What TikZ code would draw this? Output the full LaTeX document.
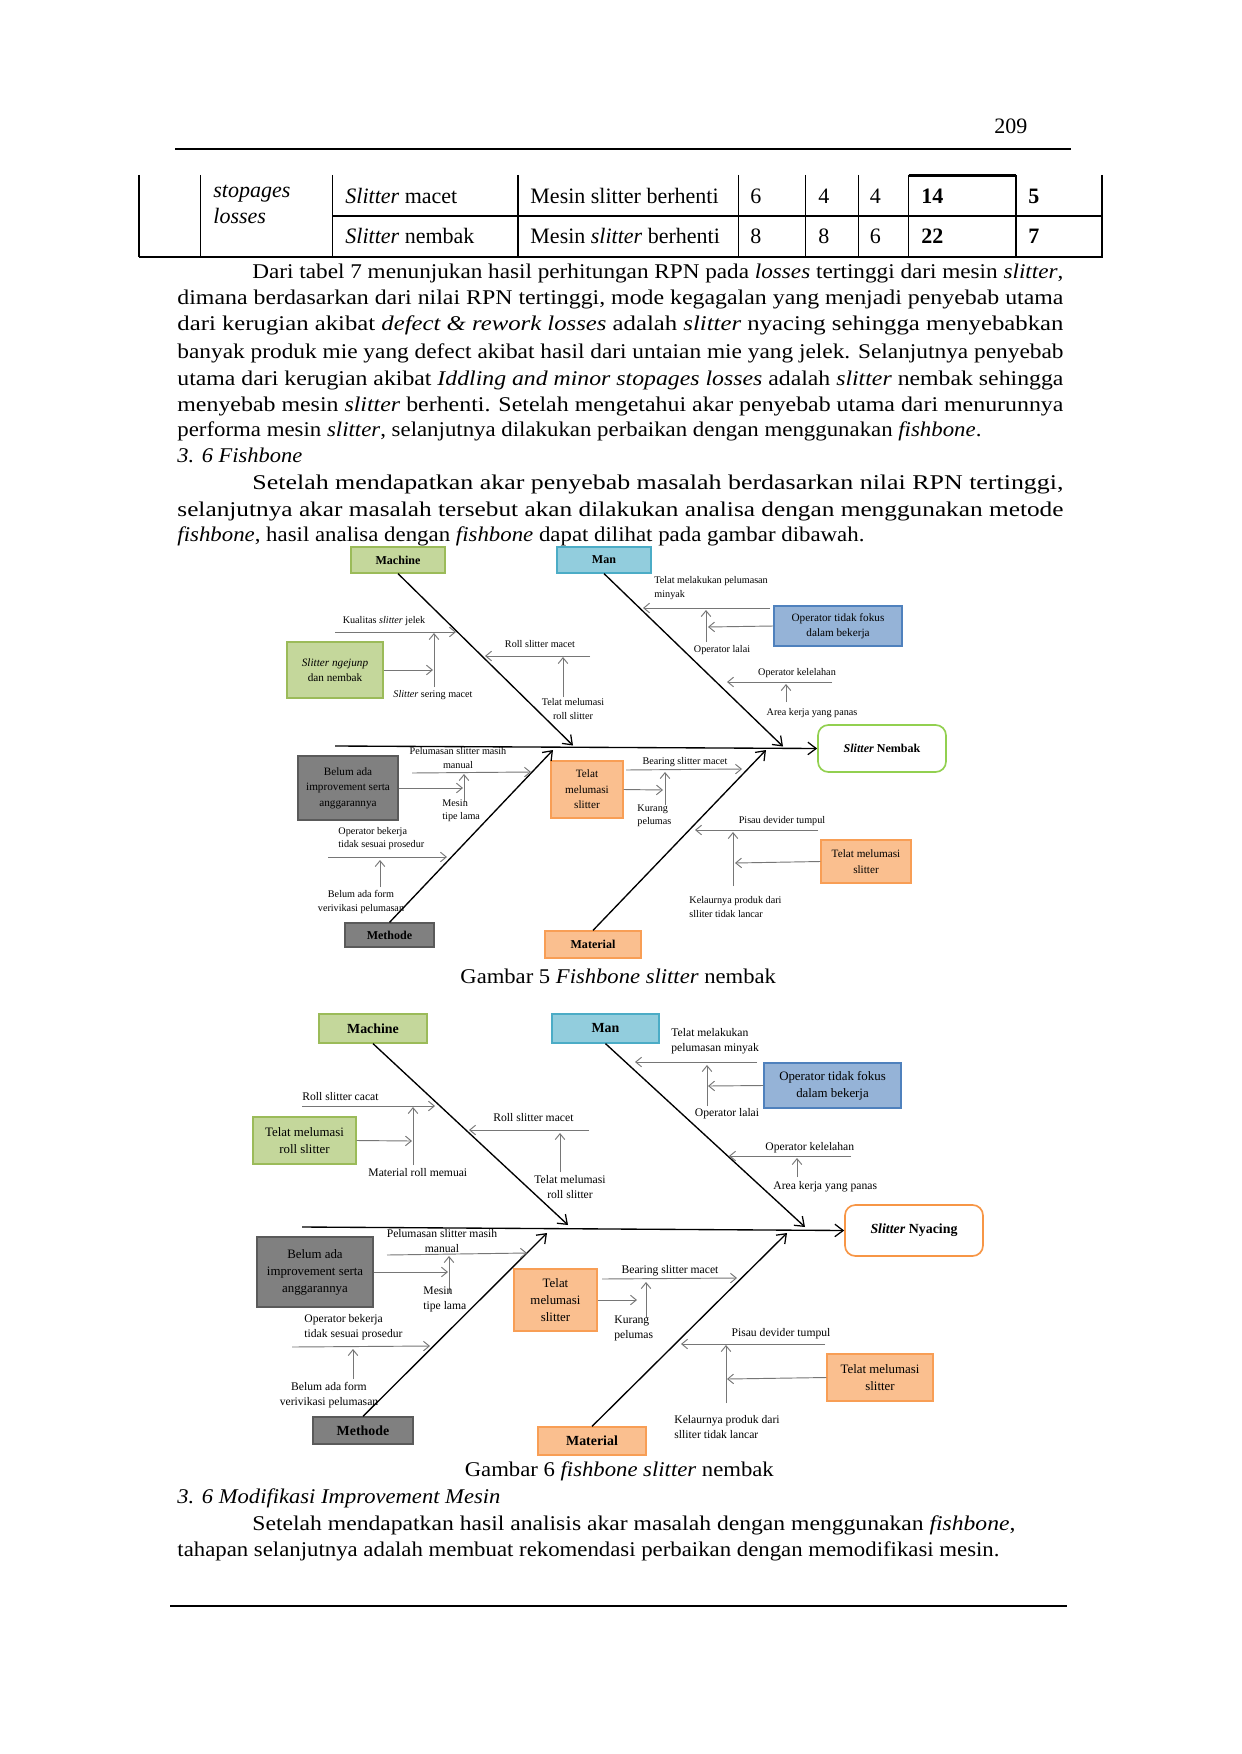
\documentclass[tikz,border=0pt]{standalone}
\usepackage{fontspec}
\setmainfont{Liberation Serif}
\usepackage{graphicx}
\usetikzlibrary{arrows.meta}
\newlength\pxu \setlength\pxu{0.4818pt}
\definecolor{grnF}{RGB}{196,215,155}
\definecolor{grnD}{RGB}{155,187,89}
\definecolor{cyF}{RGB}{146,205,221}
\definecolor{cyD}{RGB}{75,172,198}
\definecolor{bluF}{RGB}{149,179,215}
\definecolor{bluD}{RGB}{79,129,189}
\definecolor{gryF}{RGB}{128,128,128}
\definecolor{gryD}{RGB}{90,90,90}
\definecolor{orF}{RGB}{250,191,143}
\definecolor{orD}{RGB}{247,150,70}
\definecolor{effG}{RGB}{146,208,80}
\definecolor{subC}{RGB}{118,118,118}
\newcommand\fbLa{\fontsize{4.9}{6.4}\selectfont}
\newcommand\fbLb{\fontsize{5.6}{7.2}\selectfont}
\newcommand\fbBa{\fontsize{5.4}{7.4}\selectfont}
\newcommand\fbBb{\fontsize{6.2}{8.2}\selectfont}
\newcommand\fbCa{\fontsize{5.8}{7}\selectfont}
\newcommand\fbCb{\fontsize{6.7}{8}\selectfont}
\newcommand\bodyf{\fontsize{10.1}{12}\selectfont}
\newcommand\tblf{\fontsize{10.6}{12}\selectfont}
\newcommand\jl[4]{\node[anchor=base west,inner sep=0,font=\bodyf] (#1) at (#2) {\resizebox{#3\pxu}{\height}{#4}};}
\newcommand\sarr[3]{\coordinate (#1a) at (#2); \coordinate (#1b) at (#3); \draw[subarr] (#1a) -- (#1b);}
\begin{document}
\begin{tikzpicture}[x=0.4818pt,y=-0.4818pt,
  bx/.style={draw, line width=0.6pt, inner sep=0pt, align=center},
  bsz/.style 2 args={minimum width=#1*0.4818pt, minimum height=#2*0.4818pt},
  grnbox/.style={bx, fill=grnF, draw=grnD},
  cybox/.style={bx, fill=cyF, draw=cyD},
  blbox/.style={bx, fill=bluF, draw=bluD},
  grbox/.style={bx, fill=gryF, draw=gryD},
  orbox/.style={bx, fill=orF, draw=orD!80!orF},
  effbox/.style={bx, fill=white, rounded corners=5pt, line width=0.8pt},
  bone/.style={line width=0.65pt, -{Straight Barb[length=4pt,width=6pt,line width=0.6pt]}},
  subarr/.style={draw=subC, line width=0.45pt, -{Straight Barb[length=2.8pt,width=4.6pt]}},
  la/.style={font=\fbLa, inner sep=0pt, align=center},
  lal/.style={font=\fbLa, inner sep=0pt, align=left, anchor=west},
  lb/.style={font=\fbLb, inner sep=0pt, align=center},
  lbl/.style={font=\fbLb, inner sep=0pt, align=left, anchor=west},
  tb/.style={font=\tblf, inner sep=0pt, anchor=base west}]
\path[fill=white] (0,0) rectangle (1241,1754);

% ---------- header ----------
\node[tb] (pg) at (994,133.5) {209};
\draw[line width=1pt] (175,149) -- (1071,149);

% ---------- table ----------
\foreach \x in {139,200.5,332.5,518,738.6,805.7,858.3,908.7,1016,1102}
  \draw[line width=0.5pt] (\x,175) -- (\x,257);
\draw[line width=0.5pt] (332.5,216) -- (1102,216);
\draw[line width=1pt] (908.7,175.5) -- (1016,175.5);
\draw[line width=1pt] (138.5,257) -- (1102.5,257);
\node[tb] (c0a) at (213,198) {\textit{stopages}};
\node[tb] (c0b) at (213,224) {\textit{losses}};
\node[tb] (r1a) at (345,204) {\textit{Slitter} macet};
\node[tb] (r1b) at (530,204) {Mesin slitter berhenti};
\node[tb] (r1c) at (750,204) {6};
\node[tb] (r1d) at (818,204) {4};
\node[tb] (r1e) at (869.5,204) {4};
\node[tb] (r1f) at (921,204) {\textbf{14}};
\node[tb] (r1g) at (1028,204) {\textbf{5}};
\node[tb] (r2a) at (345,244) {\textit{Slitter} nembak};
\node[tb] (r2b) at (530,244) {Mesin \textit{slitter} berhenti};
\node[tb] (r2c) at (750,244) {8};
\node[tb] (r2d) at (818,244) {8};
\node[tb] (r2e) at (869.5,244) {6};
\node[tb] (r2f) at (921,244) {\textbf{22}};
\node[tb] (r2g) at (1028,244) {\textbf{7}};

% ---------- body text ----------
\jl{b1}{252,279}{811}{Dari tabel 7 menunjukan hasil perhitungan RPN pada \textit{losses} tertinggi dari mesin \textit{slitter},}
\jl{b2}{177,304.5}{886}{dimana berdasarkan dari nilai RPN tertinggi, mode kegagalan yang menjadi penyebab utama}
\jl{b3}{177,331}{886}{dari kerugian akibat \textit{defect \& rework losses} adalah \textit{slitter} nyacing sehingga menyebabkan}
\jl{b4}{177,358.3}{886}{banyak produk mie yang defect akibat hasil dari untaian mie yang jelek. Selanjutnya penyebab}
\jl{b5}{177,385}{886}{utama dari kerugian akibat \textit{Iddling and minor stopages losses} adalah \textit{slitter} nembak sehingga}
\jl{b6}{177,411}{886}{menyebab mesin \textit{slitter} berhenti. Setelah mengetahui akar penyebab utama dari menurunnya}
\jl{b7}{177,436.7}{804}{performa mesin \textit{slitter}, selanjutnya dilakukan perbaikan dengan menggunakan \textit{fishbone}.}
\jl{h1}{177,462.7}{125}{\textit{3. 6 Fishbone}}
\jl{b9}{252,489.3}{811}{Setelah mendapatkan akar penyebab masalah berdasarkan nilai RPN tertinggi,}
\jl{b10}{177,516.7}{886}{selanjutnya akar masalah tersebut akan dilakukan analisa dengan menggunakan metode}
\jl{b11}{177,541.7}{687}{\textit{fishbone}, hasil analisa dengan \textit{fishbone} dapat dilihat pada gambar dibawah.}

% ================= FISHBONE 1 =================
\node[grnbox, bsz={94}{26}, font=\fbCa] (mach1) at (398,560) {\textbf{Machine}};
\node[cybox, bsz={94}{26}, font=\fbCa] (man1) at (604,560) {\textbf{Man}};
\node[grnbox, bsz={96}{56}, font=\fbBa] (g1) at (335,670) {\textit{Slitter ngejunp}\\dan nembak};
\node[blbox, bsz={128}{40}, font=\fbBa] (ob1) at (838,626) {Operator tidak fokus\\dalam bekerja};
\node[grbox, bsz={100}{64}, font=\fbBa] (gr1) at (348,788) {Belum ada\\improvement serta\\anggarannya};
\node[orbox, bsz={72}{57}, font=\fbBa] (or1) at (587,789.5) {Telat\\melumasi\\slitter};
\node[orbox, bsz={90}{43}, font=\fbBa] (or1b) at (866,861.5) {Telat melumasi\\slitter};
\node[grbox, bsz={89}{24}, font=\fbCa] (me1) at (389.5,935) {\textbf{Methode}};
\node[orbox, bsz={96}{27}, font=\fbCa] (ma1) at (593,944.5) {\textbf{Material}};
\node[effbox, draw=effG, bsz={128}{47}, font=\fbCa] (ef1) at (882,748.5) {\textbf{\textit{Slitter} Nembak}};

\coordinate (s1a) at (335,746);
\draw[bone] (s1a) -- (ef1.west);
\coordinate (j1m) at (573,745.5); \draw[bone] (mach1.south) -- (j1m);
\coordinate (j1n) at (783,746.5); \draw[bone] (man1.south) -- (j1n);
\coordinate (j1e) at (553,750);   \draw[bone] (me1.north) -- (j1e);
\coordinate (j1t) at (766,750);   \draw[bone] (ma1.north) -- (j1t);

% machine causes
\sarr{a1}{335,632}{456,632}
\node[la] (ta1) at (384,621) {Kualitas \textit{slitter} jelek};
\sarr{a2}{434,687}{434,633}
\node[la] (ta2) at (433,695) {\textit{Slitter} sering macet};
\coordinate (a3b) at (433,670); \draw[subarr] (g1.east) -- (a3b);
\sarr{a4}{590,656}{485,656}
\node[la] (ta4) at (540,644) {Roll slitter macet};
\sarr{a5}{563,697}{563,657}
\node[la] (ta5) at (573,709) {Telat melumasi\\roll slitter};
% man causes
\sarr{a6}{770,608}{643,608}
\node[lal] (ta6) at (654,588) {Telat melakukan pelumasan\\minyak};
\sarr{a7}{706,642}{706,610}
\node[la] (ta7) at (722,650) {Operator lalai};
\coordinate (a8b) at (708,627); \draw[subarr] (ob1.west) -- (a8b);
\sarr{a9}{832,682}{727,682}
\node[la] (ta9) at (797,673) {Operator kelelahan};
\sarr{a10}{786,702}{786,684}
\node[la] (ta10) at (812,713) {Area kerja yang panas};
% methode causes
\sarr{a11}{412,773}{531,772}
\node[la] (ta11) at (458,758) {Pelumasan slitter masih\\manual};
\coordinate (a12b) at (463,788); \draw[subarr] (gr1.east) -- (a12b);
\sarr{a13}{464,802}{464,774}
\node[lal] (ta13) at (442,811) {Mesin\\tipe lama};
\sarr{a14}{328,857}{447,857}
\node[lal] (ta14) at (338,838.5) {Operator bekerja\\tidak sesuai prosedur};
\sarr{a15}{380,887}{380,860}
\node[la] (ta15) at (361,902) {Belum ada form\\verivikasi pelumasan};
% material causes
\sarr{a16}{626,770}{742,769}
\node[la] (ta16) at (685,762) {Bearing slitter macet};
\coordinate (a17b) at (663,790); \draw[subarr] (or1.east) -- (a17b);
\sarr{a18}{665,805}{665,772}
\node[lal] (ta18) at (637,816) {Kurang\\pelumas};
\sarr{a19}{818,830}{695,830}
\node[la] (ta19) at (782,821) {Pisau devider tumpul};
\sarr{a20}{733,886}{733,832}
\coordinate (a21b) at (735,863); \draw[subarr] (or1b.west) -- (a21b);
\node[lal] (ta21) at (689,907) {Kelaurnya produk dari\\slliter tidak lancar};

\node[anchor=base west,inner sep=0,font=\bodyf] (cap1) at (460,983) {\resizebox{315.5\pxu}{\height}{Gambar 5 \textit{Fishbone slitter} nembak}};

% ================= FISHBONE 2 =================
\node[grnbox, bsz={108}{29}, font=\fbCb] (mach2) at (373,1028.5) {\textbf{Machine}};
\node[cybox, bsz={107}{29}, font=\fbCb] (man2) at (605.5,1028.5) {\textbf{Man}};
\node[grnbox, bsz={103}{47}, font=\fbBb] (g2) at (304.5,1140.5) {Telat melumasi\\roll slitter};
\node[blbox, bsz={137}{45}, font=\fbBb] (ob2) at (832.5,1085.5) {Operator tidak fokus\\dalam bekerja};
\node[grbox, bsz={116}{70}, font=\fbBb] (gr2) at (315,1272) {Belum ada\\improvement serta\\anggarannya};
\node[orbox, bsz={83}{62}, font=\fbBb] (or2) at (555.5,1300) {Telat\\melumasi\\slitter};
\node[orbox, bsz={106}{47}, font=\fbBb] (or2b) at (880,1377.5) {Telat melumasi\\slitter};
\node[grbox, bsz={100}{27}, font=\fbCb] (me2) at (363,1430.5) {\textbf{Methode}};
\node[orbox, bsz={108}{28}, font=\fbCb] (ma2) at (592,1441) {\textbf{Material}};
\node[effbox, draw=orD, bsz={138}{51}, font=\fbCb] (ef2) at (914,1230.5) {\textbf{\textit{Slitter} Nyacing}};

\coordinate (s2a) at (302,1227);
\draw[bone] (s2a) -- (ef2.west);
\coordinate (j2m) at (568,1225); \draw[bone] (mach2.south) -- (j2m);
\coordinate (j2n) at (805,1227); \draw[bone] (man2.south) -- (j2n);
\coordinate (j2e) at (547,1233); \draw[bone] (me2.north) -- (j2e);
\coordinate (j2t) at (787,1233); \draw[bone] (ma2.north) -- (j2t);

% machine causes
\sarr{b1}{302,1106}{435,1106}
\node[lbl] (tb1) at (302,1097) {Roll slitter cacat};
\sarr{b2}{413,1165}{413,1107}
\coordinate (b3b) at (412,1141); \draw[subarr] (g2.east) -- (b3b);
\node[lbl] (tb3) at (368,1173) {Material roll memuai};
\sarr{b4}{589,1130}{469,1130}
\node[lbl] (tb4) at (493,1118) {Roll slitter macet};
\sarr{b5}{560,1172}{560,1133}
\node[lb] (tb5) at (570,1187) {Telat melumasi\\roll slitter};
% man causes
\sarr{b6}{757,1062}{635,1062}
\node[lbl] (tb6) at (671,1041) {Telat melakukan\\pelumasan minyak};
\sarr{b7}{707,1106}{707,1065}
\node[lb] (tb7) at (727,1114) {Operator lalai};
\coordinate (b8b) at (708,1086); \draw[subarr] (ob2.west) -- (b8b);
\sarr{b9}{851,1156}{729,1156}
\node[lbl] (tb9) at (765,1148) {Operator kelelahan};
\sarr{b10}{797,1177}{797,1158}
\node[lbl] (tb10) at (773,1187) {Area kerja yang panas};
% methode causes
\sarr{b11}{387,1255}{527,1253}
\node[lb] (tb11) at (442,1241) {Pelumasan slitter masih\\manual};
\coordinate (b12b) at (448,1272); \draw[subarr] (gr2.east) -- (b12b);
\sarr{b13}{449,1293}{449,1256}
\node[lbl] (tb13) at (423,1299) {Mesin\\tipe lama};
\sarr{b14}{292,1347}{430,1346}
\node[lbl] (tb14) at (304,1327) {Operator bekerja\\tidak sesuai prosedur};
\sarr{b15}{353,1379}{353,1349}
\node[lb] (tb15) at (329,1395) {Belum ada form\\verivikasi pelumasan};
% material causes
\sarr{b16}{602,1279}{737,1278}
\node[lb] (tb16) at (670,1271) {Bearing slitter macet};
\coordinate (b17b) at (637,1300); \draw[subarr] (or2.east) -- (b17b);
\sarr{b18}{646,1318}{646,1282}
\node[lbl] (tb18) at (614,1328) {Kurang\\pelumas};
\sarr{b19}{825,1344}{681,1344}
\node[lb] (tb19) at (781,1334) {Pisau devider tumpul};
\sarr{b20}{726,1403}{726,1345}
\coordinate (b21b) at (727,1379); \draw[subarr] (or2b.west) -- (b21b);
\node[lbl] (tb21) at (674,1427) {Kelaurnya produk dari\\slliter tidak lancar};

\node[anchor=base west,inner sep=0,font=\bodyf] (cap2) at (464.4,1476.5) {\resizebox{309\pxu}{\height}{Gambar 6 \textit{fishbone slitter} nembak}};

% ---------- closing text ----------
\jl{h2}{177,1503}{323}{\textit{3. 6 Modifikasi Improvement Mesin}}
\jl{p1}{252,1530}{763}{Setelah mendapatkan hasil analisis akar masalah dengan menggunakan \textit{fishbone},}
\jl{p2}{177,1556}{822}{tahapan selanjutnya adalah membuat rekomendasi perbaikan dengan memodifikasi mesin.}
\draw[line width=1pt] (170,1606) -- (1066.5,1606);
\end{tikzpicture}
\end{document}
